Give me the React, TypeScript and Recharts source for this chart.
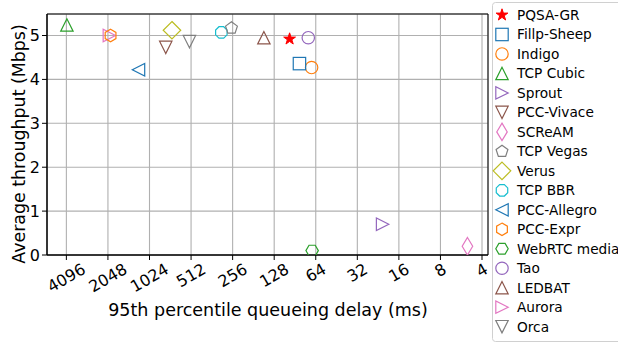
import React from "react";
import {
  ScatterChart,
  Scatter,
  XAxis,
  YAxis,
  CartesianGrid,
  Legend,
  Label,
  ReferenceArea,
} from "recharts";

// protocols, in legend order
const names = [
  "PQSA-GR",
  "Fillp-Sheep",
  "Indigo",
  "TCP Cubic",
  "Sprout",
  "PCC-Vivace",
  "SCReAM",
  "TCP Vegas",
  "Verus",
  "TCP BBR",
  "PCC-Allegro",
  "PCC-Expr",
  "WebRTC media",
  "Tao",
  "LEDBAT",
  "Aurora",
  "Orca",
];
// 95th percentile queueing delay (ms)
const delays = [99, 84, 68.6, 4060, 21, 781, 5.1, 261, 704, 309, 1230, 1960, 68, 72.5, 152, 2000, 526];
// average throughput (Mbps)
const throughputs = [4.92, 4.36, 4.27, 5.24, 0.7, 4.73, 0.2, 5.17, 5.12, 5.07, 4.22, 5.0, 0.1, 4.95, 4.95, 5.0, 4.86];
const colors = [
  "#ff0000",
  "#1f77b4",
  "#ff7f0e",
  "#2ca02c",
  "#9467bd",
  "#8c564b",
  "#e377c2",
  "#7f7f7f",
  "#bcbd22",
  "#17becf",
  "#1f77b4",
  "#ff7f0e",
  "#2ca02c",
  "#9467bd",
  "#8c564b",
  "#e377c2",
  "#7f7f7f",
];
const shapes = [
  "star",
  "square",
  "circle",
  "triUp",
  "triRight",
  "triDown",
  "thinDiamond",
  "pentagon",
  "diamond",
  "octagon",
  "triLeft",
  "hexagon1",
  "hexagon2",
  "circle",
  "triUp",
  "triRight",
  "triDown",
];

const xTicks = [4096, 2048, 1024, 512, 256, 128, 64, 32, 16, 8, 4];
const yTicks = [0, 1, 2, 3, 4, 5];
const X_MIN = 3.62;
const X_MAX = 5658;
const Y_MAX = 5.49;

const FONT = "DejaVu Sans, sans-serif";
const R = 6.2;

function poly(n: number, cx: number, cy: number, r: number, start: number, inner?: number) {
  const pts: string[] = [];
  const count = inner ? n * 2 : n;
  for (let i = 0; i < count; i++) {
    const a = ((start + (i * 360) / count) * Math.PI) / 180;
    const rr = inner && i % 2 === 1 ? r * inner : r;
    pts.push(`${cx + rr * Math.cos(a)},${cy + rr * Math.sin(a)}`);
  }
  return pts.join(" ");
}

function Marker({ kind, cx, cy, color }: { kind: string; cx: number; cy: number; color: string }) {
  const r = R;
  const common = { fill: "none", stroke: color, strokeWidth: 1.2 };
  switch (kind) {
    case "star":
      return <polygon points={poly(5, cx, cy, r, -90, 0.381966)} fill={color} stroke={color} strokeWidth={1} />;
    case "square":
      return <rect x={cx - r} y={cy - r} width={2 * r} height={2 * r} {...common} />;
    case "circle":
      return <circle cx={cx} cy={cy} r={r} {...common} />;
    case "triUp":
      return <polygon points={`${cx},${cy - r} ${cx - r},${cy + r} ${cx + r},${cy + r}`} {...common} />;
    case "triDown":
      return <polygon points={`${cx},${cy + r} ${cx - r},${cy - r} ${cx + r},${cy - r}`} {...common} />;
    case "triLeft":
      return <polygon points={`${cx - r},${cy} ${cx + r},${cy - r} ${cx + r},${cy + r}`} {...common} />;
    case "triRight":
      return <polygon points={`${cx + r},${cy} ${cx - r},${cy - r} ${cx - r},${cy + r}`} {...common} />;
    case "diamond": {
      const d = r * 1.414;
      return <polygon points={`${cx},${cy - d} ${cx + d},${cy} ${cx},${cy + d} ${cx - d},${cy}`} {...common} />;
    }
    case "thinDiamond": {
      const d = r * 1.414;
      const w = d * 0.6;
      return <polygon points={`${cx},${cy - d} ${cx + w},${cy} ${cx},${cy + d} ${cx - w},${cy}`} {...common} />;
    }
    case "pentagon":
      return <polygon points={poly(5, cx, cy, r, -90)} {...common} />;
    case "hexagon1":
      return <polygon points={poly(6, cx, cy, r, -90)} {...common} />;
    case "hexagon2":
      return <polygon points={poly(6, cx, cy, r, 0)} {...common} />;
    case "octagon":
      return <polygon points={poly(8, cx, cy, r, -90 + 22.5)} {...common} />;
    default:
      return null;
  }
}

const XTick = (props: any) => {
  const { x, y, payload } = props;
  const s = String(payload.value);
  const w = s.length * 10.2;
  const h = 13;
  const cy = y + (w * 0.5 + h * 0.866) / 2;
  return (
    <text
      x={x}
      y={cy}
      transform={`rotate(-30 ${x} ${cy})`}
      textAnchor="middle"
      dominantBaseline="central"
      fontSize={16}
      fontFamily={FONT}
      fill="#000"
    >
      {s}
    </text>
  );
};

const LegendBox = () => (
  <svg width={126} height={340} style={{ display: "block" }}>
    <rect x={0.5} y={0.5} width={140} height={339} rx={3} fill="#fff" stroke="#d0d0d0" />
    {names.map((n, i) => {
      const cy = 13 + i * 19.48;
      return (
        <g key={n}>
          <Marker kind={shapes[i]} cx={10} cy={cy} color={colors[i]} />
          <text x={25} y={cy} dominantBaseline="central" fontSize={13.7} fontFamily={FONT} fill="#000">
            {n}
          </text>
        </g>
      );
    })}
  </svg>
);

export default function App() {
  const series = names.map((n, i) => ({
    name: n,
    data: [{ x: delays[i], y: throughputs[i] }],
  }));

  return (
    <div style={{ position: "absolute", left: 0, top: 0, width: 618, height: 343, fontFamily: FONT, background: "#fff" }}>
      <ScatterChart width={618} height={343} margin={{ top: 14, right: 130, bottom: 0, left: 0 }}>
        <CartesianGrid stroke="#b0b0b0" strokeWidth={1.1} />
        <XAxis
          dataKey="x"
          type="number"
          scale="log"
          domain={[X_MIN, X_MAX]}
          reversed
          allowDataOverflow
          ticks={xTicks}
          interval={0}
          height={88}
          tickSize={5}
          stroke="#000"
          tick={<XTick />}
        >
          <Label
            content={() => (
              <text x={268} y={310} textAnchor="middle" dominantBaseline="central" fontSize={17.5} fontFamily={FONT} fill="#000">
                95th percentile queueing delay (ms)
              </text>
            )}
          />
        </XAxis>
        <YAxis
          dataKey="y"
          type="number"
          domain={[0, Y_MAX]}
          allowDataOverflow
          ticks={yTicks}
          interval={0}
          width={47}
          tickSize={5}
          stroke="#000"
          tick={{ fontSize: 16, fill: "#000", fontFamily: FONT }}
        >
          <Label
            content={() => (
              <text
                x={18.5}
                y={144}
                transform="rotate(-90 18.5 144)"
                textAnchor="middle"
                dominantBaseline="central"
                fontSize={17.4}
                fontFamily={FONT}
                fill="#000"
              >
                Average throughput (Mbps)
              </text>
            )}
          />
        </YAxis>
        <ReferenceArea x1={X_MIN} x2={X_MAX} y1={0} y2={Y_MAX} fill="none" stroke="#000" strokeWidth={1} />
        {series
          .map((s, i) => (
            <Scatter
              key={s.name}
              name={s.name}
              data={s.data}
              isAnimationActive={false}
              shape={(p: any) => <Marker kind={shapes[i]} cx={p.cx} cy={p.cy} color={colors[i]} />}
            />
          ))
          .reverse()}
        <Legend
          layout="vertical"
          align="center"
          verticalAlign="middle"
          wrapperStyle={{ left: 492, top: 2, width: 126, height: 340 }}
          content={() => <LegendBox />}
        />
      </ScatterChart>
    </div>
  );
}
